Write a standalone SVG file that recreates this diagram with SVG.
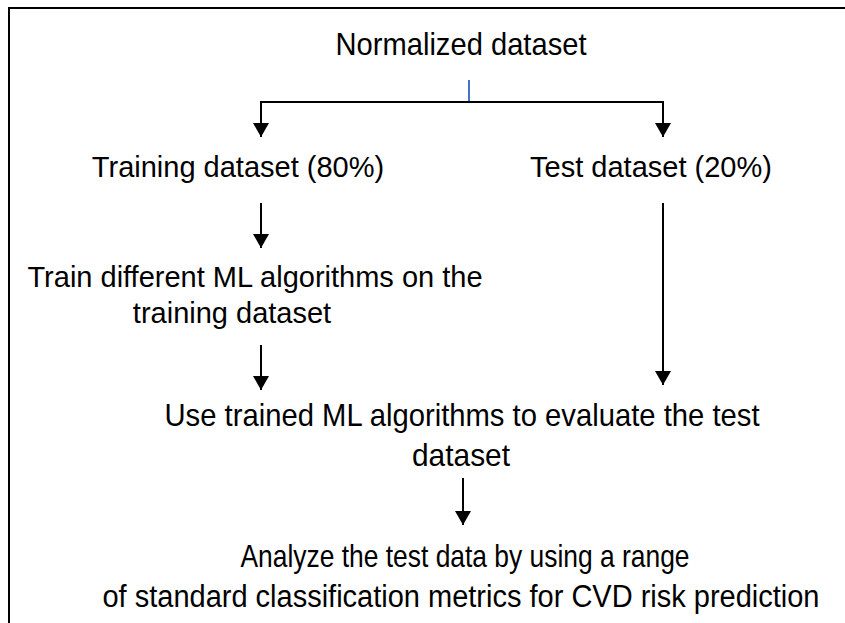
<svg xmlns="http://www.w3.org/2000/svg" width="845" height="623" viewBox="0 0 845 623">
<style>
text{font-family:"Liberation Sans",Arial,sans-serif;font-size:29px;fill:#000;text-anchor:middle}
text.n{font-size:32px}
.c{stroke:#000;stroke-width:2;fill:none}
</style>
<defs>
<marker id="ah" markerWidth="14" markerHeight="16" refX="14" refY="8" orient="auto" markerUnits="userSpaceOnUse" viewBox="0 0 14 16">
<path d="M0,0 L14,8 L0,16 Z" fill="#000"/>
</marker>
</defs>
<rect width="845" height="623" fill="#fff"/>
<path d="M9,623 V8 H845" fill="none" stroke="#000" stroke-width="2"/>
<g id="n1"><text class="n" x="461" y="55" textLength="251" lengthAdjust="spacingAndGlyphs">Normalized dataset</text></g>
<g id="n2"><text x="238" y="177">Training dataset (80%)</text></g>
<g id="n3"><text x="651" y="177">Test dataset (20%)</text></g>
<g id="n4"><text x="255" y="287">Train different ML algorithms on the</text><text x="232" y="323">training dataset</text></g>
<g id="n5"><text class="n" x="462" y="426" textLength="595" lengthAdjust="spacingAndGlyphs">Use trained ML algorithms to evaluate the test</text><text class="n" x="461" y="466" textLength="98" lengthAdjust="spacingAndGlyphs">dataset</text></g>
<g id="n6"><text class="n" x="465" y="567" textLength="449" lengthAdjust="spacingAndGlyphs">Analyze the test data by using a range</text><text class="n" x="461" y="607" textLength="717" lengthAdjust="spacingAndGlyphs" style="font-size:31px">of standard classification metrics for CVD risk prediction</text></g>
<g id="connectors">
<line x1="469" y1="80" x2="469" y2="102" stroke="#4472c4" stroke-width="2"/>
<path class="c" d="M261,102 H663"/>
<line class="c" x1="261" y1="101" x2="261" y2="137" marker-end="url(#ah)"/>
<line class="c" x1="663" y1="101" x2="663" y2="137" marker-end="url(#ah)"/>
<line class="c" x1="261" y1="203" x2="261" y2="248" marker-end="url(#ah)"/>
<line class="c" x1="261" y1="345" x2="261" y2="390" marker-end="url(#ah)"/>
<line class="c" x1="663" y1="203" x2="663" y2="385" marker-end="url(#ah)"/>
<line class="c" x1="463" y1="478" x2="463" y2="525" marker-end="url(#ah)"/>
</g>
</svg>
